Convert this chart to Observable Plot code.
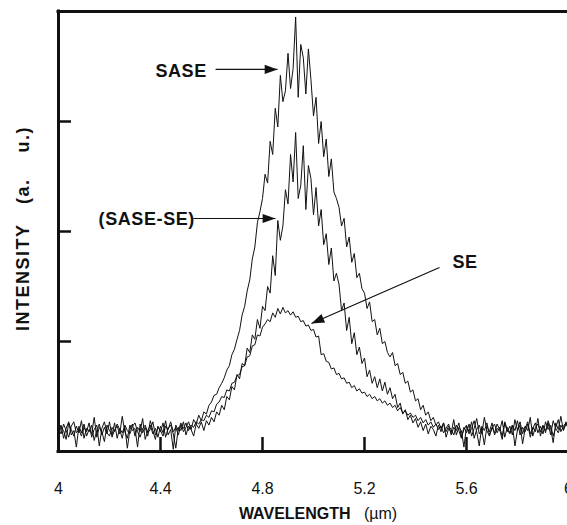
<!DOCTYPE html>
<html><head><meta charset="utf-8">
<script src="https://cdn.jsdelivr.net/npm/d3@7"></script>
<script src="https://cdn.jsdelivr.net/npm/@observablehq/plot@0.6"></script>
<style>
html,body{margin:0;padding:0;background:#fff;}
#chart{width:567px;height:525px;overflow:hidden;}
</style></head><body><div id="chart"></div>
<script>
// Sampling grid of the spectra (µm)
const wavelengthStart = 4.0;
const wavelengthStep = 0.01;

// SASE spectrum (a.u.), 4.00 ... 6.00 µm
const sase = [
0.18,0.24,0.12,0.21,0.27,0.15,0.19,0.04,0.23,0.17,
0.25,0.14,0.20,0.16,0.31,0.13,0.22,0.18,0.09,0.24,
0.19,0.15,0.26,0.12,0.21,0.17,0.23,0.03,0.20,0.25,
0.14,0.22,0.18,0.30,0.11,0.19,0.24,0.16,0.21,0.13,
0.23,0.17,0.28,0.15,0.20,0.02,0.24,0.19,0.26,0.18,
0.22,0.27,0.20,0.29,0.25,0.33,0.28,0.36,0.34,0.42,
0.45,0.51,0.52,0.58,0.62,0.67,0.74,0.78,0.88,0.93,
1.02,1.10,1.24,1.32,1.46,1.56,1.75,1.86,2.08,2.18,
2.30,2.52,2.44,2.82,2.70,3.12,2.95,3.42,3.18,3.28,
3.62,3.30,3.48,3.95,3.22,3.70,3.58,3.25,3.66,3.38,
3.05,3.22,2.80,3.00,2.68,2.84,2.50,2.66,2.36,2.30,
2.22,2.05,2.12,1.86,1.95,1.72,1.80,1.58,1.62,1.48,
1.44,1.30,1.36,1.18,1.20,1.06,1.12,0.98,1.00,0.90,
0.86,0.90,0.78,0.80,0.70,0.72,0.62,0.64,0.54,0.56,
0.46,0.48,0.38,0.42,0.33,0.36,0.28,0.31,0.24,0.27,
0.21,0.26,0.18,0.23,0.20,0.15,0.24,0.19,0.12,0.22,
0.17,0.25,0.14,0.21,0.30,0.16,0.20,0.06,0.23,0.18,
0.26,0.15,0.21,0.19,0.28,0.13,0.22,0.17,0.24,0.05,
0.20,0.27,0.16,0.23,0.19,0.31,0.14,0.22,0.25,0.18,
0.24,0.17,0.28,0.21,0.08,0.26,0.20,0.32,0.19,0.25,
0.22];

// (SASE - SE) spectrum (a.u.)
const saseMinusSe = [
0.15,0.22,0.19,0.11,0.26,0.20,0.14,0.23,0.17,0.28,
0.12,0.21,0.18,0.24,0.10,0.19,0.25,0.15,0.22,0.16,
0.27,0.13,0.20,0.23,0.16,0.32,0.18,0.12,0.24,0.19,
0.21,0.04,0.25,0.17,0.22,0.14,0.28,0.19,0.11,0.23,
0.18,0.26,0.13,0.21,0.24,0.16,0.03,0.22,0.19,0.27,
0.15,0.23,0.20,0.14,0.25,0.21,0.27,0.19,0.28,0.24,
0.31,0.27,0.36,0.33,0.42,0.38,0.50,0.47,0.59,0.56,
0.70,0.66,0.80,0.78,0.94,0.90,1.06,1.02,1.20,1.12,
1.32,1.28,1.50,1.44,1.78,1.60,2.10,1.92,2.05,2.38,
2.25,2.70,2.45,2.90,2.30,2.42,2.78,2.20,2.60,2.48,
2.15,2.40,2.05,2.20,1.88,1.98,1.70,1.85,1.55,1.62,
1.52,1.28,1.35,1.10,1.22,0.98,1.08,0.88,0.95,0.80,
0.85,0.68,0.74,0.62,0.68,0.58,0.66,0.55,0.63,0.52,
0.58,0.48,0.52,0.40,0.44,0.34,0.38,0.29,0.33,0.26,
0.30,0.22,0.27,0.19,0.25,0.16,0.23,0.20,0.14,0.24,
0.18,0.26,0.13,0.21,0.17,0.29,0.15,0.22,0.19,0.04,
0.23,0.18,0.27,0.12,0.20,0.24,0.16,0.31,0.19,0.14,
0.22,0.17,0.25,0.20,0.11,0.26,0.18,0.23,0.15,0.29,
0.19,0.24,0.07,0.21,0.27,0.16,0.22,0.18,0.30,0.14,
0.23,0.19,0.26,0.15,0.28,0.21,0.17,0.24,0.20,0.27,
0.19];

// SE spectrum (a.u.)
const se = [
0.21,0.16,0.25,0.19,0.13,0.23,0.27,0.17,0.20,0.14,
0.22,0.18,0.26,0.13,0.20,0.24,0.05,0.21,0.27,0.17,
0.14,0.22,0.18,0.25,0.20,0.12,0.24,0.19,0.16,0.23,
0.26,0.18,0.13,0.21,0.24,0.17,0.20,0.27,0.15,0.22,
0.19,0.14,0.23,0.20,0.27,0.18,0.22,0.15,0.24,0.21,
0.26,0.19,0.24,0.22,0.27,0.25,0.29,0.28,0.33,0.31,
0.37,0.36,0.43,0.45,0.50,0.49,0.56,0.55,0.62,0.63,
0.69,0.70,0.77,0.78,0.86,0.87,0.96,0.97,1.06,1.05,
1.13,1.16,1.20,1.18,1.26,1.22,1.30,1.25,1.31,1.26,
1.28,1.24,1.27,1.22,1.23,1.18,1.19,1.14,1.15,1.10,
1.11,1.04,1.05,0.88,0.89,0.82,0.81,0.75,0.76,0.70,
0.71,0.66,0.67,0.62,0.63,0.58,0.60,0.55,0.57,0.53,
0.54,0.50,0.52,0.48,0.50,0.46,0.48,0.44,0.46,0.42,
0.44,0.40,0.42,0.37,0.40,0.35,0.37,0.33,0.35,0.31,
0.33,0.28,0.31,0.26,0.29,0.24,0.27,0.22,0.25,0.20,
0.23,0.17,0.21,0.25,0.15,0.22,0.19,0.26,0.13,0.20,
0.24,0.16,0.21,0.28,0.18,0.05,0.23,0.19,0.26,0.15,
0.21,0.25,0.17,0.22,0.14,0.27,0.20,0.16,0.24,0.19,
0.28,0.15,0.22,0.18,0.25,0.13,0.21,0.26,0.17,0.23,
0.16,0.27,0.20,0.24,0.14,0.22,0.29,0.18,0.23,0.26,
0.21];

// Axes
const xDomain = [4, 6];
const yDomain = [0, 4];
const xTicks = [4, 4.4, 4.8, 5.2, 5.6, 6];
const xInnerTicks = [4.4, 4.8, 5.2, 5.6];
const yTicks = [1, 2, 3];
const xTitle = "WAVELENGTH";
const xUnit = "(µm)";
const yTitle = "INTENSITY\u00a0\u00a0\u00a0(a.\u00a0\u00a0\u00a0\u00a0u.)";

// Annotations (data units: µm, a.u.)
const labelText = ["SASE", "(SASE-SE)", "SE"];
const labelX = [4.38, 4.157, 5.545];
const labelY = [3.455, 2.11, 1.72];
const arrowX1 = [4.616, 4.529, 5.494];
const arrowY1 = [3.473, 2.118, 1.673];
const arrowX2 = [4.859, 4.851, 4.992];
const arrowY2 = [3.473, 2.118, 1.164];

// ---- build ----
const W = 567, H = 525;
const mLeft = 58, mTop = 11, mBottom = 74;
const xRange = [58, 568];
const yRange = [H - mBottom, mTop];
const kx = (xRange[1] - xRange[0]) / (xDomain[1] - xDomain[0]);
const ky = (yRange[0] - yRange[1]) / (yDomain[1] - yDomain[0]);

const series = [
  {name: "SE", values: se},
  {name: "SASE-SE", values: saseMinusSe},
  {name: "SASE", values: sase}
];
const rows = series.flatMap(s => s.values.map((v, i) => ({
  series: s.name,
  wavelength: +(wavelengthStart + i * wavelengthStep).toFixed(3),
  intensity: v
})));

const idx = labelText.map((_, i) => i);
const angles = idx.map(i => Math.atan2(-(arrowY2[i] - arrowY1[i]) * ky, (arrowX2[i] - arrowX1[i]) * kx) * 180 / Math.PI);

const arrowHead = {
  draw(context, size) {
    const r = Math.sqrt(size / Math.PI);
    context.moveTo(0, 0);
    context.lineTo(-2.8 * r, -r);
    context.lineTo(-2.8 * r, r);
    context.closePath();
  }
};

const ink = "#111";
const plot = Plot.plot({
  width: W,
  height: H,
  marginLeft: mLeft,
  marginRight: 0,
  marginTop: mTop,
  marginBottom: mBottom,
  style: {fontFamily: "'Liberation Sans', Arial, Helvetica, sans-serif", background: "#fff", color: ink},
  x: {domain: xDomain, range: xRange},
  y: {domain: yDomain, range: yRange},
  marks: [
    Plot.line(rows, {x: "wavelength", y: "intensity", z: "series", stroke: ink, strokeWidth: 1}),
    Plot.ruleX([xDomain[0]], {strokeWidth: 3, stroke: ink, strokeLinecap: "square"}),
    Plot.ruleY(yDomain, {strokeWidth: 3, stroke: ink, strokeLinecap: "square"}),
    Plot.axisX({ticks: xInnerTicks, tickSize: -14, strokeWidth: 2.5, fill: "none", label: null, tickFormat: () => ""}),
    Plot.axisY({ticks: yTicks, tickSize: -13, strokeWidth: 2.5, fill: "none", label: null, tickFormat: () => ""}),
    Plot.axisX({ticks: xTicks, tickSize: 0, tickPadding: 31, fontSize: 16, label: null, tickFormat: d => String(d)}),
    Plot.text([`${xTitle}\u00a0\u00a0\u00a0${xUnit}`], {frameAnchor: "bottom", dy: 67, dx: 5, fontSize: 16, fontWeight: "bold"}),
    Plot.text([yTitle], {frameAnchor: "left", textAnchor: "middle", dx: -35, dy: -3, rotate: -90, fontSize: 18, fontWeight: "bold"}),
    Plot.link(idx, {x1: i => arrowX1[i], y1: i => arrowY1[i], x2: i => arrowX2[i], y2: i => arrowY2[i], stroke: ink, strokeWidth: 1.2}),
    Plot.dot(idx, {x: i => arrowX2[i], y: i => arrowY2[i], symbol: arrowHead, r: 4.6, fill: ink, stroke: "none", rotate: i => angles[i]}),
    Plot.text(idx, {x: i => labelX[i], y: i => labelY[i], text: i => labelText[i], textAnchor: "start", fontSize: 18, fontWeight: "bold"})
  ]
});
document.getElementById("chart").appendChild(plot);

// Typographic touches: regular-weight unit, spaced y title
d3.select(plot).selectAll("text").each(function () {
  const t = d3.select(this);
  const s = this.textContent;
  if (s.includes(xUnit)) {
    t.text(null);
    t.append("tspan").text(`${xTitle}\u00a0\u00a0\u00a0`);
    t.append("tspan").attr("font-weight", "normal").text(xUnit);
  } else if (s === yTitle) {
    t.style("letter-spacing", "1.5px");
  } else if (labelText.includes(s)) {
    t.style("letter-spacing", "0.6px");
  }
});
</script></body></html>
